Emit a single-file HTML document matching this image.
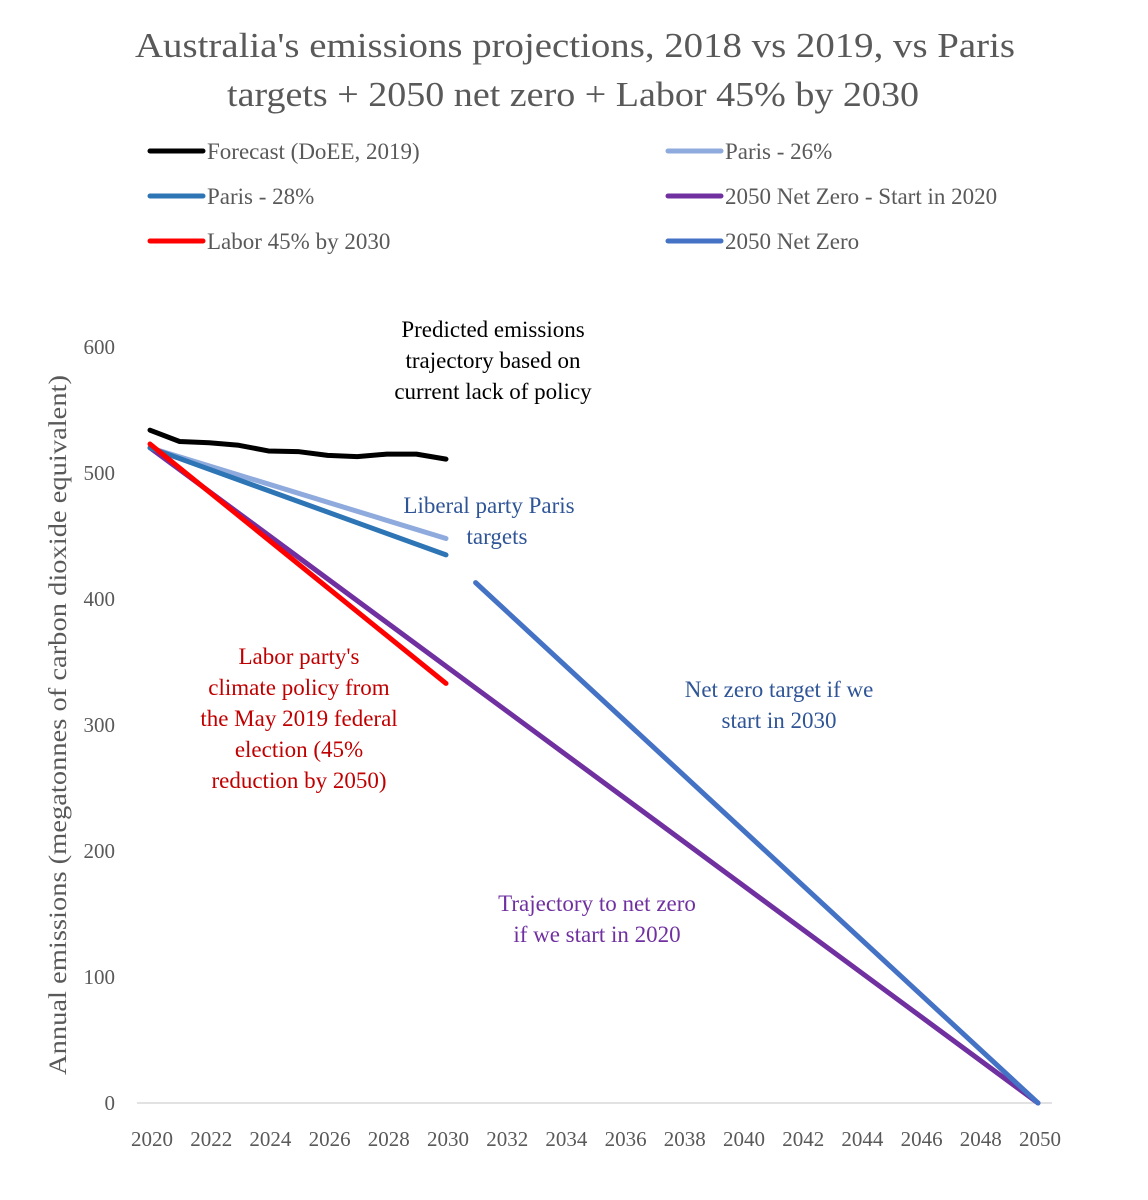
<!DOCTYPE html>
<html><head><meta charset="utf-8"><style>
body{margin:0;background:#fff;}
svg{display:block;font-family:"Liberation Serif",serif;}
</style></head><body>
<svg id="chart" width="1148" height="1200">
<rect width="1148" height="1200" fill="#fff"/>
<g fill="#595959" font-size="35" text-anchor="middle">
<text x="575" y="57" textLength="880" lengthAdjust="spacingAndGlyphs">Australia's emissions projections, 2018 vs 2019, vs Paris</text>
<text x="573" y="106" textLength="692" lengthAdjust="spacingAndGlyphs">targets + 2050 net zero + Labor 45% by 2030</text>
</g>
<g id="legend"></g>
<g id="axes"></g>
<g id="series"></g>
<g font-size="23" text-anchor="middle">
<text x="493" y="337" fill="#000">Predicted emissions</text>
<text x="493" y="368" fill="#000">trajectory based on</text>
<text x="493" y="399" fill="#000">current lack of policy</text>
<text x="489" y="513" fill="#2f5597">Liberal party Paris</text>
<text x="497" y="544" fill="#2f5597">targets</text>
<text x="299" y="664" fill="#c00000">Labor party's</text>
<text x="299" y="695" fill="#c00000">climate policy from</text>
<text x="299" y="726" fill="#c00000">the May 2019 federal</text>
<text x="299" y="757" fill="#c00000">election (45%</text>
<text x="299" y="788" fill="#c00000">reduction by 2050)</text>
<text x="779" y="697" fill="#2f5597">Net zero target if we</text>
<text x="779" y="728" fill="#2f5597">start in 2030</text>
<text x="597" y="911" fill="#7030a0">Trajectory to net zero</text>
<text x="597" y="942" fill="#7030a0">if we start in 2020</text>
</g>
</svg>
<script>
const years = [2020,2021,2022,2023,2024,2025,2026,2027,2028,2029,2030];
const forecast = [534,525,524,522,517.5,517,514,513,515,515,511];
const paris26 = [520,448];
const paris28 = [520,435];
const labor = [523,333];
const netZero2020Years = [2020,2050];
const netZero2020 = [520,0];
const netZeroYears = [2031,2050];
const netZero = [413,0];
const yTicks = [0,100,200,300,400,500,600];
const xTicks = [2020,2022,2024,2026,2028,2030,2032,2034,2036,2038,2040,2042,2044,2046,2048,2050];

const NS='http://www.w3.org/2000/svg';
const X0=150,X1=1038,Y0=1103,Y1=347;
const xs=y=>X0+(y-2020)*(X1-X0)/30;
const ys=v=>Y0-v*(Y0-Y1)/600;
function mk(tag,attrs,parent){const e=document.createElementNS(NS,tag);for(const k in attrs)e.setAttribute(k,attrs[k]);parent.appendChild(e);return e;}

const axes=document.getElementById('axes');
const base=mk('line',{x1:137,x2:1052,y1:Y0,y2:Y0,stroke:'#d9d9d9','stroke-width':1.5},axes);


yTicks.forEach(v=>{const t=mk('text',{x:115,y:ys(v)+7,'text-anchor':'end','font-size':21,fill:'#595959'},axes);t.textContent=v;

});
xTicks.forEach(v=>{const t=mk('text',{x:xs(v)+2,y:1146,'text-anchor':'middle','font-size':21,fill:'#595959'},axes);t.textContent=v;

});
const yt=mk('text',{transform:'translate(66,725) rotate(-90)','text-anchor':'middle','font-size':25,fill:'#595959',textLength:700,lengthAdjust:'spacingAndGlyphs'},axes);
yt.textContent='Annual emissions (megatonnes of carbon dioxide equivalent)';



const ser=document.getElementById('series');
function line(xv,yv,color,name){const pts=xv.map((x,i)=>xs(x)+','+ys(yv[i])).join(' ');
const p=mk('polyline',{points:pts,fill:'none',stroke:color,'stroke-width':5,'stroke-linecap':'round','stroke-linejoin':'round'},ser);

}
line(netZero2020Years,netZero2020,'#7030a0','series-net-zero-2020');
line(netZeroYears,netZero,'#4472c4','series-net-zero');
line([2020,2030],paris26,'#8faadc','series-paris-26');
line([2020,2030],paris28,'#2e75b6','series-paris-28');
line([2020,2030],labor,'#ff0000','series-labor-45');
line(years,forecast,'#000000','series-forecast');

const lg=document.getElementById('legend');
const items=[['Forecast (DoEE, 2019)','#000',150,151],['Paris - 26%','#8faadc',668,151],['Paris - 28%','#2e75b6',150,196],['2050 Net Zero - Start in 2020','#7030a0',668,196],['Labor 45% by 2030','#ff0000',150,241],['2050 Net Zero','#4472c4',668,241]];
items.forEach(it=>{const g=mk('g',{},lg);


mk('line',{x1:it[2],x2:it[2]+53,y1:it[3],y2:it[3],stroke:it[1],'stroke-width':5,'stroke-linecap':'round'},g);
const t=mk('text',{x:it[2]+57,y:it[3]+8,'font-size':23,fill:'#595959'},g);t.textContent=it[0];});
</script>
</body></html>
